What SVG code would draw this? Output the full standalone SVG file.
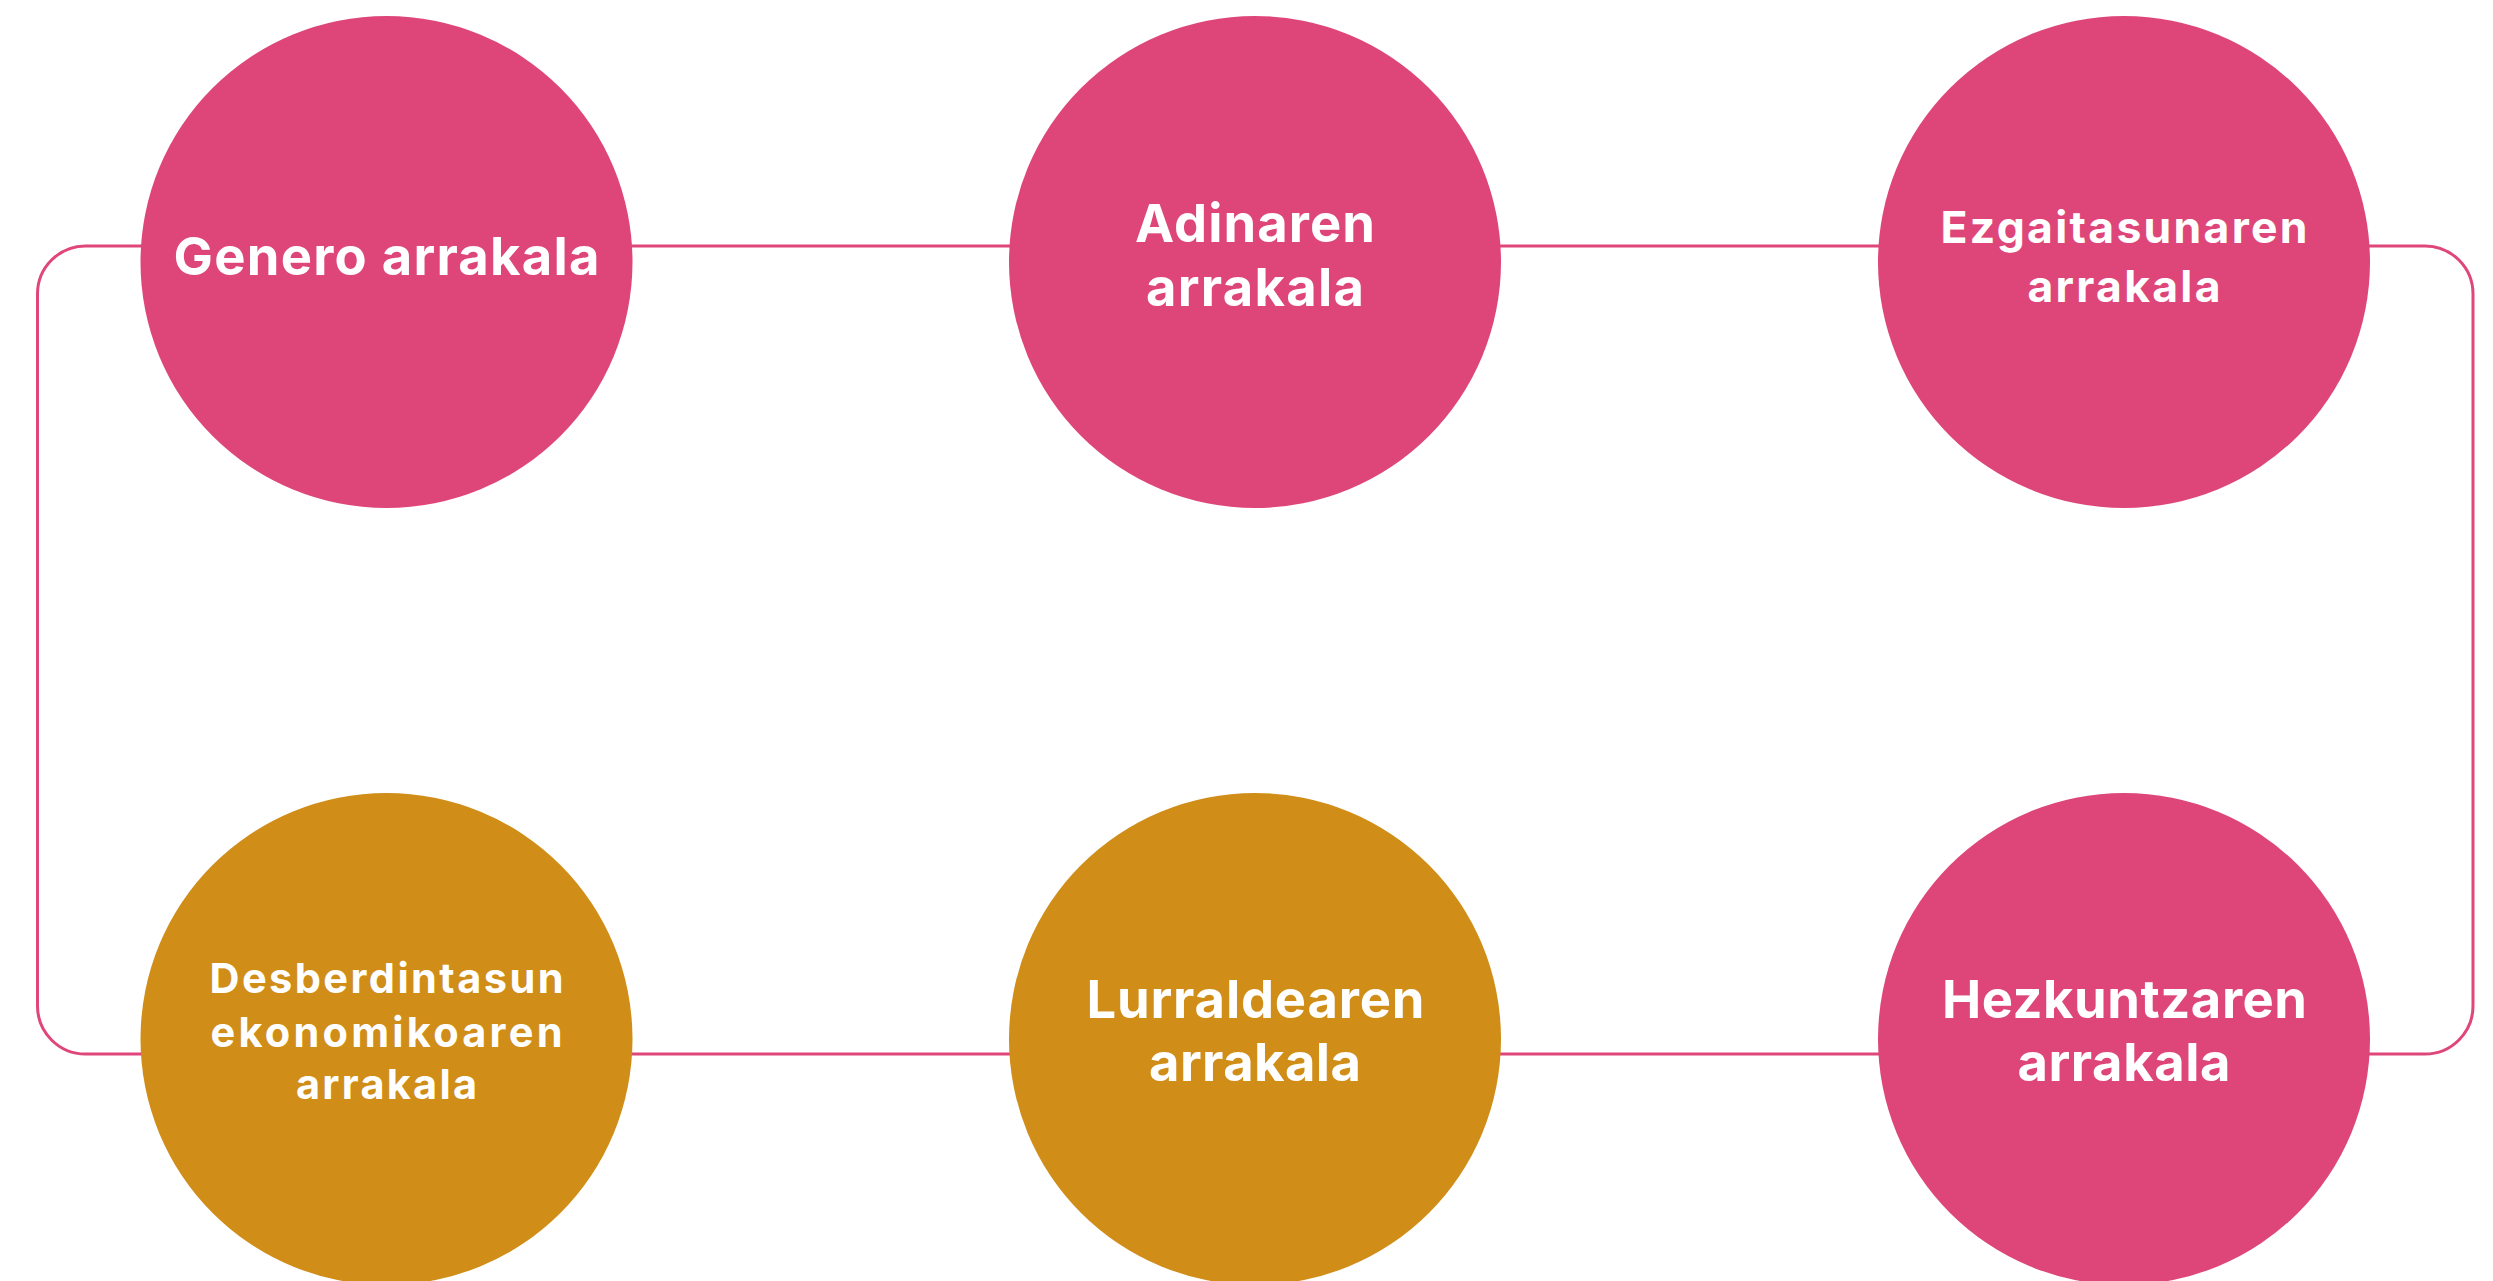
<svg xmlns="http://www.w3.org/2000/svg" width="2493" height="1281" viewBox="0 0 2493 1281">
<style>
.bg{fill:#ffffff}
.conn{fill:none;stroke:#DF467B;stroke-width:3}
.pink{fill:#DE4679}
.ochre{fill:#D08D17}
.lbl{font-family:Inter,"Open Sans","Liberation Sans",sans-serif;font-weight:700;fill:#ffffff;text-anchor:middle}
.big{font-size:52.5px}
.mid{font-size:44.5px}
.sm{font-size:41.5px}
</style>
<rect class="bg" x="0" y="0" width="2493" height="1281"/>
<g id="connectors">
<path class="conn" d="M386.5 246 H1255"/>
<path class="conn" d="M1255 246 H2124"/>
<path class="conn" d="M2124 246 H2425 A48 48 0 0 1 2473 294 V1006 A48 48 0 0 1 2425 1054 H2124"/>
<path class="conn" d="M2124 1054 H1255"/>
<path class="conn" d="M1255 1054 H386.5"/>
<path class="conn" d="M386.5 1054 H85.5 A48 48 0 0 1 37.5 1006 V294 A48 48 0 0 1 85.5 246 H386.5"/>
</g>
<g id="node-genero">
<circle class="pink" cx="386.5" cy="262" r="246"/>
<text class="lbl big" x="386.5" y="275" textLength="426" lengthAdjust="spacing">Genero arrakala</text>
</g>
<g id="node-adinaren">
<circle class="pink" cx="1255" cy="262" r="246"/>
<text class="lbl big" x="1255" y="242" textLength="240" lengthAdjust="spacing">Adinaren</text>
<text class="lbl big" x="1255" y="306" textLength="218" lengthAdjust="spacing">arrakala</text>
</g>
<g id="node-ezgaitasunaren">
<circle class="pink" cx="2124" cy="262" r="246"/>
<text class="lbl mid" x="2124" y="243" textLength="367" lengthAdjust="spacing">Ezgaitasunaren</text>
<text class="lbl mid" x="2124" y="302" textLength="193" lengthAdjust="spacing">arrakala</text>
</g>
<g id="node-desberdintasun">
<circle class="ochre" cx="386.5" cy="1039" r="246"/>
<text class="lbl sm" x="386.5" y="992.5" textLength="354" lengthAdjust="spacing">Desberdintasun</text>
<text class="lbl sm" x="386.5" y="1046.5" textLength="352" lengthAdjust="spacing">ekonomikoaren</text>
<text class="lbl sm" x="386.5" y="1099" textLength="181" lengthAdjust="spacing">arrakala</text>
</g>
<g id="node-lurraldearen">
<circle class="ochre" cx="1255" cy="1039" r="246"/>
<text class="lbl big" x="1255.5" y="1017.5" textLength="338" lengthAdjust="spacing">Lurraldearen</text>
<text class="lbl big" x="1255" y="1080.5" textLength="212" lengthAdjust="spacing">arrakala</text>
</g>
<g id="node-hezkuntzaren">
<circle class="pink" cx="2124" cy="1039" r="246"/>
<text class="lbl big" x="2124.5" y="1017.5" textLength="365" lengthAdjust="spacing">Hezkuntzaren</text>
<text class="lbl big" x="2124" y="1080.5" textLength="213" lengthAdjust="spacing">arrakala</text>
</g>
</svg>
